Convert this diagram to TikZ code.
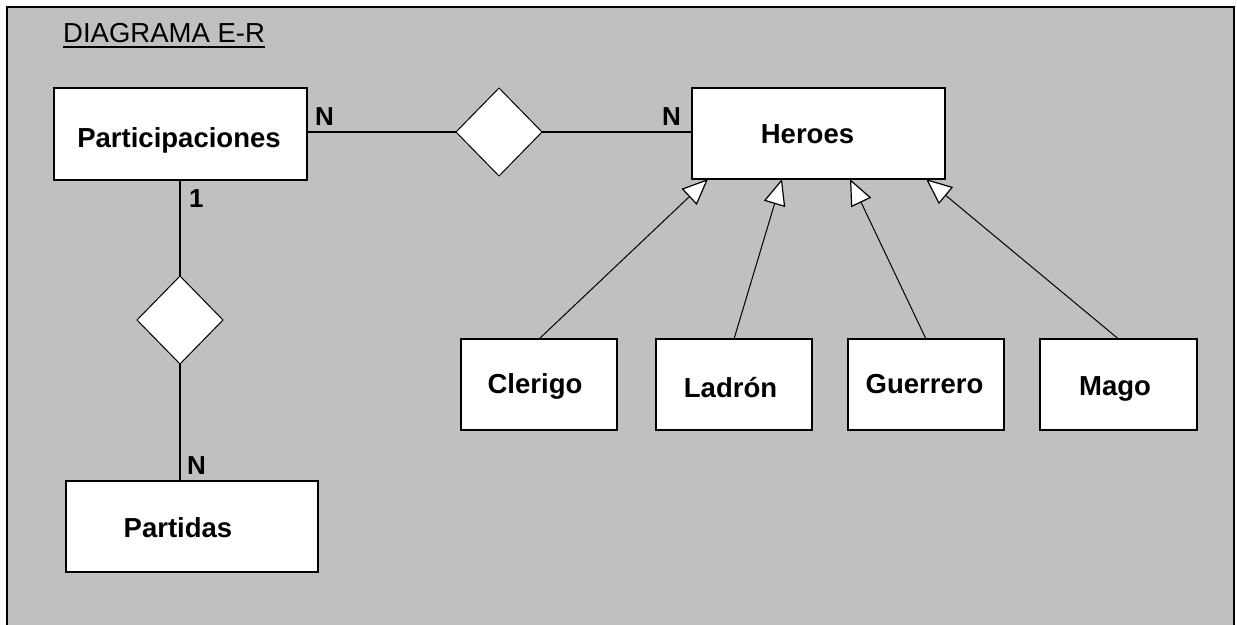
\documentclass[tikz,border=0pt]{standalone}
\usepackage{fontspec}
\setmainfont{Liberation Sans}
\usetikzlibrary{arrows.meta,shapes.geometric,calc}
\definecolor{bggray}{HTML}{C0C0C0}
\begin{document}
\begin{tikzpicture}[x=1pt,y=-1pt,
  entity/.style={draw=black, fill=white, line width=1.6pt, inner sep=0pt, outer sep=0pt,
                 minimum width=#1, minimum height=91pt},
  entity/.default=156pt,
  rel/.style={diamond, draw=black, fill=white, line width=1pt, inner sep=0pt, outer sep=0pt,
              minimum width=86pt, minimum height=88pt},
  txt/.style={anchor=base, inner sep=0pt, font=\fontsize{27.5}{32}\selectfont\bfseries},
  card/.style={anchor=base west, inner sep=0pt, font=\fontsize{26}{30}\selectfont\bfseries},
  conn/.style={line width=1.2pt},
  inh/.style={line width=1pt, -{Triangle[length=26pt, width=22pt, fill=white, line width=1.2pt]}}
]
\fill[white] (0,0) rectangle (1237,624);
\useasboundingbox (0,0) rectangle (1237,624);
\draw[fill=bggray, line width=2pt] (7,7) rectangle (1234,650);

% title
\node[anchor=base west, inner sep=0pt, font=\fontsize{27.5}{32}\selectfont] (title) at (63,42) {DIAGRAMA E-R};
\draw[line width=2pt] ([yshift=-5pt]title.base west) -- ([yshift=-5pt]title.base east);

% entities
\node[entity=253pt, minimum height=92pt] (part) at (180.5,134) {};
\node[txt] (tpart) at (179,147) {Participaciones};
\node[entity=253pt] (her) at (818.5,133.5) {};
\node[txt] (ther) at (807.5,143) {Heroes};
\node[entity=252pt] (pd) at (192,526.5) {};
\node[txt] (tpd) at (178,537) {Partidas};
\node[entity] (cle) at (539,384.5) {};
\node[txt] (tcle) at (535,393) {Clerigo};
\node[entity] (lad) at (734,384.5) {};
\node[txt] (tlad) at (730.5,397) {Ladrón};
\node[entity] (gue) at (926,384.5) {};
\node[txt] (tgue) at (924.5,393) {Guerrero};
\node[entity=157pt] (mag) at (1118.5,384.5) {};
\node[txt] (tmag) at (1115,395) {Mago};

% relationships
\node[rel] (r1) at (499,132) {};
\node[rel] (r2) at (180,320) {};

% connectors
\draw[conn] (r1.west -| part.east) -- (r1.west);
\draw[conn] (r1.east) -- (r1.east -| her.west);
\draw[conn] (r2.north |- part.south) -- (r2.north);
\draw[conn] (r2.south) -- (r2.south |- pd.north);

% cardinalities
\node[card] (c1) at (315,125) {N};
\node[card] (c2) at (662,125) {N};
\node[card] (c3) at (189,207) {1};
\node[card] (c4) at (187,474) {N};

% inheritance
\coordinate (h1) at (708,179);
\coordinate (h2) at (782,179);
\coordinate (h3) at (850,179);
\coordinate (h4) at (926,179);
\draw[inh] (cle.north) -- (h1);
\draw[inh] (lad.north) -- (h2);
\draw[inh] (gue.north) -- (h3);
\draw[inh] (mag.north) -- (h4);
\end{tikzpicture}
\end{document}
